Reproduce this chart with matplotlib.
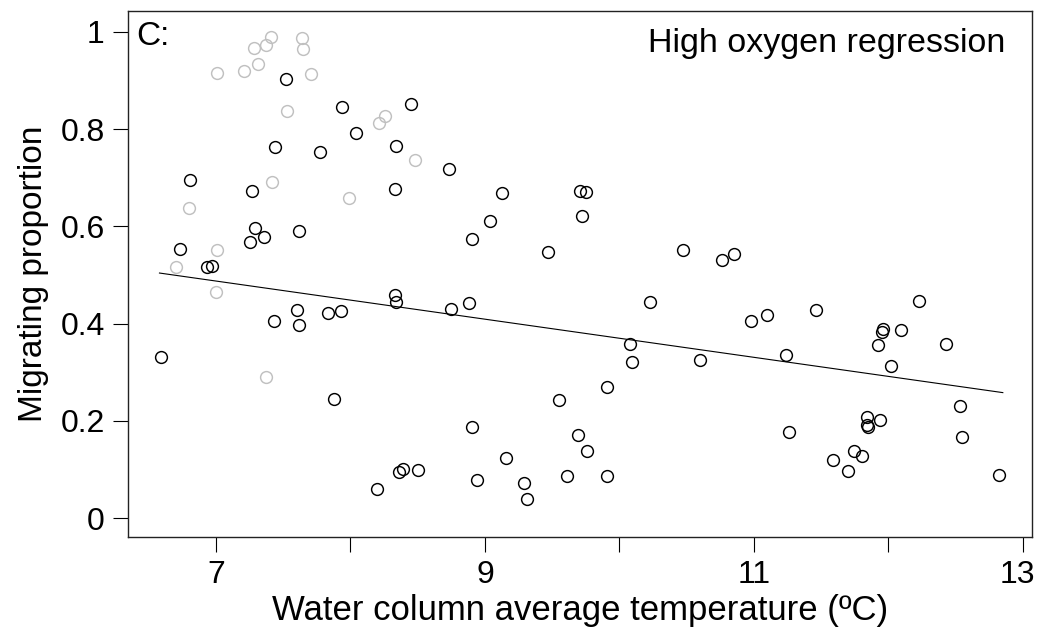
import numpy as np
import matplotlib
matplotlib.use("Agg")
import matplotlib.pyplot as plt
import matplotlib.transforms as mtransforms

plt.rcParams['font.family'] = ['Liberation Sans', 'DejaVu Sans']

# black points (used in regression)
temp_black = [6.59, 6.73, 6.81, 6.93, 6.97, 7.25, 7.27, 7.29, 7.36, 7.43,
              7.44, 7.52, 7.60, 7.62, 7.62, 7.77, 7.83, 7.875, 7.93, 7.94,
              8.04, 8.20, 8.33, 8.33, 8.34, 8.34, 8.36, 8.39, 8.45, 8.50,
              8.73, 8.75, 8.88, 8.90, 8.90, 8.94, 9.04, 9.13, 9.16, 9.29,
              9.31, 9.47, 9.55, 9.61, 9.69, 9.71, 9.72, 9.75, 9.76, 9.91,
              9.91, 10.08, 10.09, 10.23, 10.47, 10.60, 10.76, 10.85, 10.98, 11.10,
              11.24, 11.26, 11.46, 11.59, 11.70, 11.74, 11.80, 11.84, 11.84, 11.85,
              11.92, 11.94, 11.95, 11.96, 12.02, 12.09, 12.23, 12.43, 12.53, 12.55,
              12.82]
prop_black = [0.332, 0.554, 0.695, 0.516, 0.518, 0.568, 0.673, 0.596, 0.579, 0.405,
              0.764, 0.904, 0.427, 0.398, 0.591, 0.753, 0.421, 0.245, 0.425, 0.845,
              0.792, 0.060, 0.676, 0.459, 0.444, 0.765, 0.095, 0.100, 0.852, 0.098,
              0.717, 0.429, 0.443, 0.573, 0.187, 0.078, 0.612, 0.668, 0.123, 0.073,
              0.040, 0.548, 0.242, 0.087, 0.171, 0.672, 0.622, 0.671, 0.137, 0.269,
              0.086, 0.357, 0.320, 0.444, 0.551, 0.326, 0.531, 0.544, 0.405, 0.417,
              0.336, 0.178, 0.427, 0.119, 0.097, 0.138, 0.127, 0.207, 0.191, 0.188,
              0.356, 0.202, 0.382, 0.388, 0.312, 0.387, 0.447, 0.359, 0.231, 0.166,
              0.088]

# grey points
temp_grey = [6.70, 6.80, 7.00, 7.01, 7.01, 7.21, 7.28, 7.31, 7.37, 7.37,
             7.41, 7.42, 7.53, 7.64, 7.65, 7.71, 7.99, 8.21, 8.26, 8.48]
prop_grey = [0.516, 0.637, 0.464, 0.552, 0.915, 0.920, 0.967, 0.933, 0.974, 0.290,
             0.989, 0.691, 0.837, 0.988, 0.965, 0.913, 0.659, 0.812, 0.827, 0.736]

# regression line ends
line_x = [6.58, 12.85]
line_y = [0.504, 0.258]

xticks = [7, 8, 9, 10, 11, 12, 13]
xticklabels = ['7', '', '9', '', '11', '', '13']
yticks = [0, 0.2, 0.4, 0.6, 0.8, 1]
yticklabels = ['0', '0.2', '0.4', '0.6', '0.8', '1']

fig = plt.figure(figsize=(10.38, 6.28), dpi=100)
ax = fig.add_axes([128 / 1038, 1 - 537 / 628, (1032 - 128) / 1038, (537 - 11) / 628])

ax.plot(temp_grey, prop_grey, 'o', ms=8.5, mfc='none', mec='#c0c0c0', mew=1.05)
ax.plot(temp_black, prop_black, 'o', ms=8.5, mfc='none', mec='black', mew=1.05)
ax.plot(line_x, line_y, color='black', lw=0.8)

ax.set_xlim(6.346, 13.067)
ax.set_ylim(-0.039, 1.043)
ax.set_xticks(xticks)
ax.set_xticklabels(xticklabels)
ax.set_yticks(yticks)
ax.set_yticklabels(yticklabels)
ax.tick_params(axis='both', direction='out', length=10.8, width=0.8, labelsize=23)
ax.tick_params(axis='x', pad=6)
ax.tick_params(axis='y', pad=6)
for s in ax.spines.values():
    s.set_linewidth(1.0)
    s.set_color('#222222')

# nudge the last x label in so it is not clipped by the figure edge
last = ax.get_xticklabels()[-1]
last.set_transform(last.get_transform() +
                   mtransforms.ScaledTranslation(-0.06, 0, fig.dpi_scale_trans))

ax.set_xlabel('Water column average temperature (ºC)', fontsize=25)
ax.xaxis.set_label_coords(0.5, -0.108)
ax.set_ylabel('Migrating proportion', fontsize=24, va='center')
ax.yaxis.set_label_coords(-0.104, 0.5)

ax.text(0.009, 0.9354, 'C:', transform=ax.transAxes, fontsize=24,
        va='baseline', ha='left')
ax.text(0.970, 0.9226, 'High oxygen regression', transform=ax.transAxes,
        fontsize=24.5, va='baseline', ha='right')

plt.savefig('out.png', dpi=100)
